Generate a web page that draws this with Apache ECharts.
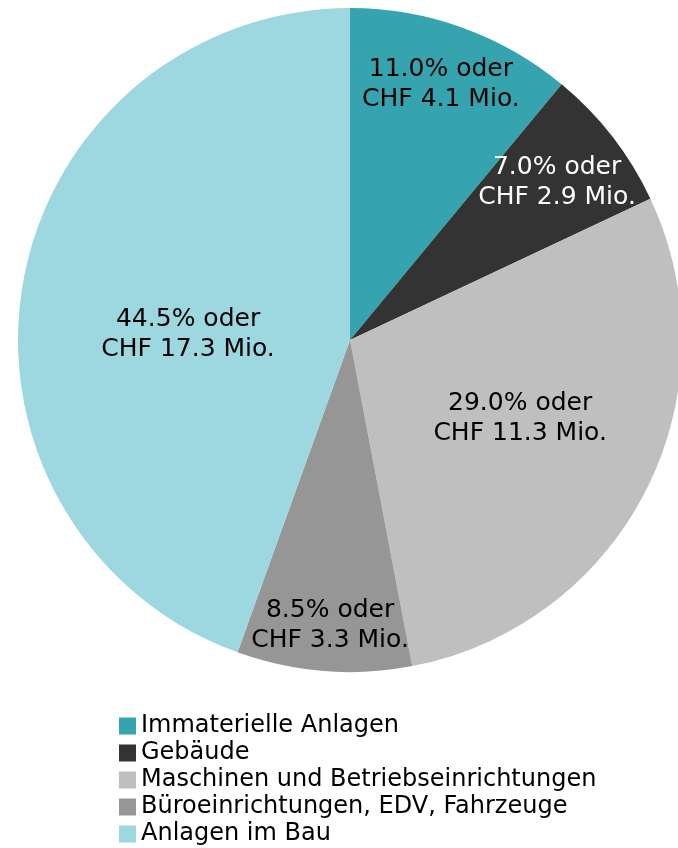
<!DOCTYPE html>
<html>
<head>
<meta charset="utf-8">
<script src="https://cdn.jsdelivr.net/npm/echarts@6/dist/echarts.min.js"></script>
<style>
  html, body { margin: 0; padding: 0; background: #fff; }
  #chart { width: 678px; height: 848px; }
</style>
</head>
<body>
<div id="chart"></div>
<script>
// Anteile in Prozent und Beträge in CHF Mio.
const categories = [
  "Immaterielle Anlagen",
  "Gebäude",
  "Maschinen und Betriebseinrichtungen",
  "Büroeinrichtungen, EDV, Fahrzeuge",
  "Anlagen im Bau",
];
const shares = [11.0, 7.0, 29.0, 8.5, 44.5];
const amounts = [4.1, 2.9, 11.3, 3.3, 17.3];
const colors = ["#36a4af", "#333333", "#bfbfbf", "#969696", "#9dd8e0"];
const labelColors = ["#000", "#fff", "#000", "#000", "#000"];
// Lage der Beschriftung: Anteil am Radius und Drehung (Grad) gegenüber der Segmentmitte
const labelRadius = [0.816, 0.783, 0.565, 0.861, 0.488];
const labelShift = [0.2, -0.6, 2.1, 0.5, 8.1];

const cx = 350, cy = 340, r = 332;
const total = shares.reduce((a, b) => a + b, 0);

let chart = echarts.init(document.getElementById("chart"));
const option = {
  animation: false,
  color: colors,
  textStyle: { fontFamily: "DejaVu Sans" },
  legend: {
    orient: "vertical",
    left: 114,
    top: 709,
    height: 140,
    icon: "rect",
    itemWidth: 17,
    itemHeight: 17,
    itemGap: 3,
    data: categories,
    textStyle: { fontSize: 24, color: "#000", lineHeight: 24, fontFamily: "DejaVu Sans" },
  },
  series: [
    {
      type: "pie",
      center: [cx, cy],
      radius: r,
      startAngle: 90,
      clockwise: true,
      avoidLabelOverlap: false,
      itemStyle: { borderWidth: 0 },
      label: {
        show: true,
        position: "inside",
        fontSize: 25,
        lineHeight: 30,
        fontFamily: "DejaVu Sans",
        formatter: (p) =>
          shares[p.dataIndex].toFixed(1) + "% oder\nCHF " + amounts[p.dataIndex].toFixed(1) + " Mio.",
      },
      labelLayout: function (params) {
        const i = params.dataIndex;
        let before = 0;
        for (let k = 0; k < i; k++) before += shares[k];
        const mid = (before + shares[i] / 2) / total;
        const ang = Math.PI / 2 - mid * 2 * Math.PI + (labelShift[i] * Math.PI) / 180;
        const d = r * labelRadius[i];
        return {
          x: cx + d * Math.cos(ang),
          y: cy - d * Math.sin(ang),
          align: "center",
          verticalAlign: "middle",
        };
      },
      data: categories.map((name, i) => ({
        name: name,
        value: shares[i],
        label: { color: labelColors[i] },
      })),
    },
  ],
};
chart.setOption(option);
window.onresize = function () {
  chart.resize();
};
</script>
</body>
</html>
